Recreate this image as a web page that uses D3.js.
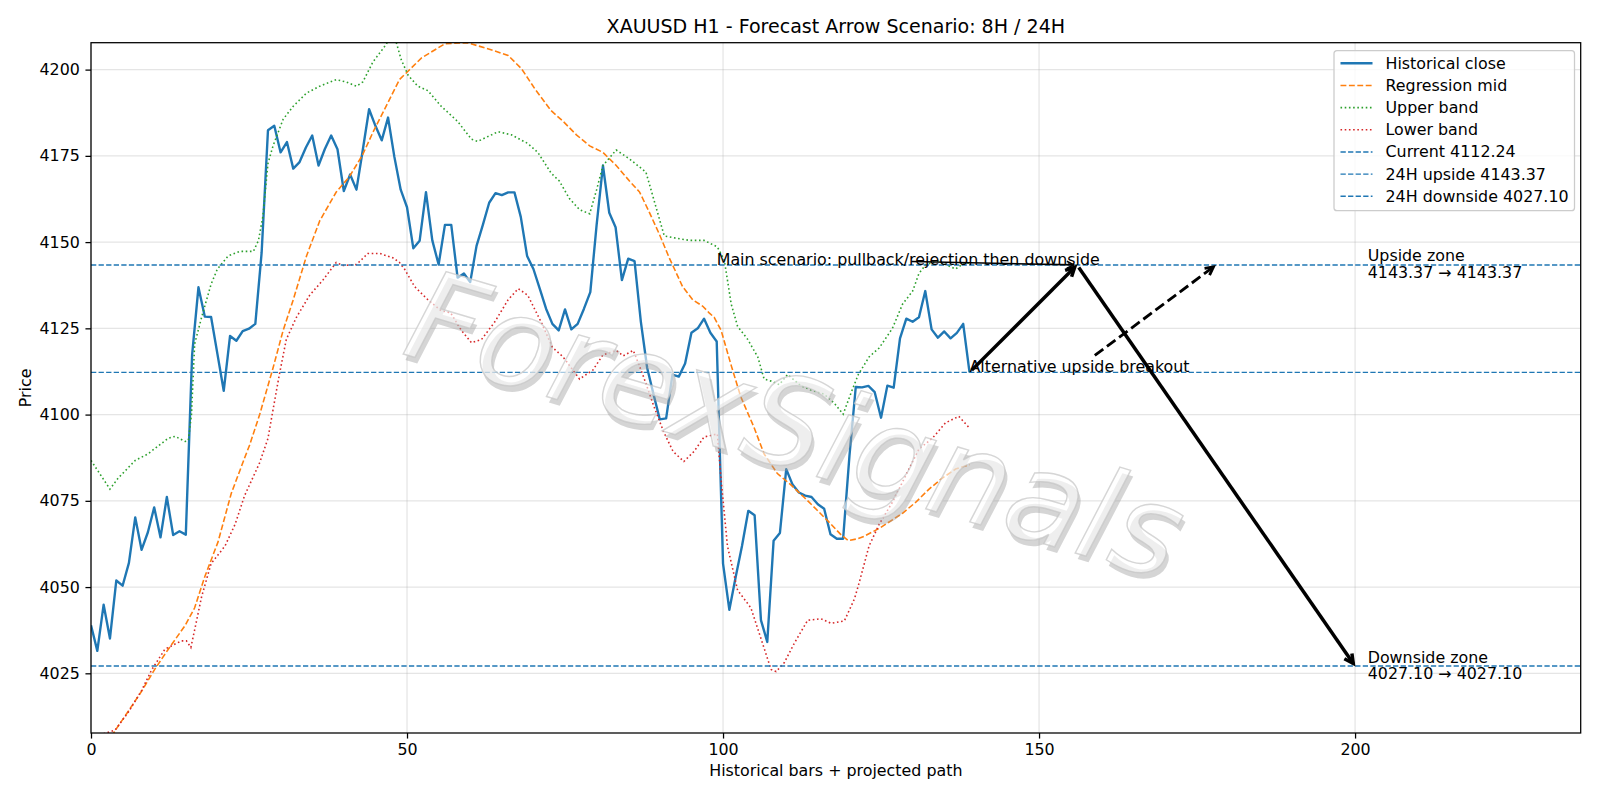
<!DOCTYPE html>
<html>
<head>
<meta charset="utf-8">
<script src="https://cdn.jsdelivr.net/npm/d3@7"></script>
<style>
  body { margin: 0; background: #fff; }
  text { font-family: "DejaVu Sans", sans-serif; }
</style>
</head>
<body>
<div id="chart"></div>
<script>
// historical H1 closes, bar 0..139
const closeVals = [
  4038.9, 4031.5, 4044.9, 4035.1, 4051.9, 4050.4, 4057.0, 4070.2, 4060.8, 4065.9,
  4073.1, 4064.4, 4076.1, 4065.1, 4066.2, 4065.2, 4117.3, 4136.9, 4128.4, 4128.3,
  4117.6, 4106.9, 4122.8, 4121.4, 4124.2, 4124.9, 4126.3, 4147.0, 4182.4, 4183.7,
  4176.0, 4179.0, 4171.3, 4173.2, 4177.4, 4180.9, 4172.2, 4177.0, 4180.9, 4176.9,
  4164.8, 4169.6, 4165.2, 4176.7, 4188.5, 4183.7, 4179.5, 4186.1, 4174.7, 4165.2,
  4160.1, 4148.2, 4150.4, 4164.5, 4150.5, 4143.5, 4155.0, 4155.0, 4139.7, 4140.9,
  4138.4, 4148.9, 4155.0, 4161.4, 4164.2, 4163.6, 4164.4, 4164.4, 4157.3, 4146.0,
  4142.2, 4136.5, 4130.7, 4126.3, 4124.4, 4130.5, 4124.7, 4126.3, 4130.7, 4135.5,
  4155.0, 4172.2, 4158.5, 4154.3, 4139.0, 4145.2, 4144.5, 4126.9, 4113.5, 4105.9,
  4098.6, 4098.9, 4111.6, 4111.0, 4114.8, 4123.7, 4125.0, 4127.8, 4123.7, 4121.2,
  4056.8, 4043.4, 4052.9, 4061.9, 4072.1, 4070.8, 4040.4, 4034.1, 4063.4, 4065.7,
  4084.2, 4079.7, 4077.4, 4076.5, 4076.1, 4074.0, 4072.7, 4065.3, 4064.0, 4064.0,
  4088.0, 4108.0, 4107.9, 4108.3, 4106.5, 4099.1, 4108.4, 4107.8, 4122.1, 4127.8,
  4126.9, 4128.2, 4135.8, 4124.7, 4122.3, 4124.1, 4122.1, 4123.7, 4126.3, 4112.24
];

// bands as [bar, price]
const midBand = [
  [0, 3999], [2, 4003], [4, 4008.9], [5.9, 4014], [8, 4019.8], [10.1, 4026.2], [12.2, 4031.9],
  [14.9, 4038.9], [16.4, 4044], [18, 4053], [20.1, 4063.1], [22.2, 4077.2], [24.3, 4087.4],
  [25.1, 4091.2], [26.7, 4100.1], [28.8, 4113.5], [30.4, 4124.4], [32, 4133.3], [34.1, 4146.0],
  [36.2, 4156.2], [38.8, 4164.5], [40.9, 4169], [43, 4175.4], [44.6, 4181.8], [46.7, 4189.4],
  [48.8, 4197.1], [50.2, 4199.6], [52.3, 4203.4], [56, 4207.5], [59.6, 4207.8], [63.9, 4205.4],
  [66, 4204.1], [68.1, 4200.3], [70.2, 4194.5], [72.8, 4188.1], [74.7, 4185], [76.8, 4181.1],
  [78.9, 4177.9], [81, 4176.0], [83.1, 4172.2], [85.2, 4167.7], [86.8, 4164.5], [88.3, 4158.8],
  [89.9, 4152.4], [91.5, 4145.4], [93.6, 4137.1], [95.2, 4133.3], [96.8, 4131.4], [97.8, 4129.5],
  [98.6, 4128.2], [99.7, 4124.4], [101.3, 4114.2], [102.8, 4105.2], [104.9, 4096.3], [106.5, 4088.6],
  [108.6, 4082.9], [110.7, 4079.7], [112.9, 4075.9], [115, 4072.1], [117.1, 4068.2], [118.7, 4065.1],
  [119.8, 4063.5], [121.3, 4064.0], [122.3, 4064.7], [124.7, 4067.0], [126.8, 4069.5], [128.4, 4071.4],
  [130.5, 4074.6], [132.6, 4078.4], [134.7, 4081.6], [136.8, 4084.2], [139, 4085.5]
];

const upperBand = [
  [0, 4086.7], [3, 4078.4], [4.3, 4081.6], [7, 4086.7], [9, 4088.6], [12.2, 4093.1], [13.3, 4093.7],
  [14.9, 4092.2], [15.4, 4092.5], [15.9, 4100.1], [16.4, 4120.5], [17.5, 4128.2], [19, 4137.8],
  [20, 4142.2], [21.7, 4146.0], [23.5, 4147.3], [25.7, 4147.3], [26.5, 4150.5], [27.2, 4157.5],
  [28, 4172.8], [28.8, 4177.9], [30.4, 4185.6], [32, 4189.4], [34.1, 4193.2], [36.2, 4195.2],
  [38.8, 4197.1], [40.4, 4196.4], [42, 4195.2], [43, 4196.4], [44.6, 4202.2], [46.7, 4207.3],
  [47.8, 4211], [49.1, 4202.8], [50.2, 4198.3], [51.7, 4195.2], [53.3, 4193.9], [55.4, 4189.4],
  [58, 4185.0], [60.2, 4179.8], [61.2, 4179.2], [64.4, 4182.0], [66.5, 4181.1], [69.1, 4178.6],
  [70.7, 4176.0], [72.8, 4170], [74.1, 4167.7], [75.7, 4162.6], [77.3, 4159.4], [78.9, 4158.2],
  [80, 4165.2], [81, 4172.2], [83.1, 4176.7], [85.2, 4174.1], [87.8, 4170.3], [89.4, 4160.1],
  [90.7, 4151.8], [92.6, 4151.1], [94.7, 4150.5], [97, 4150.5], [99.1, 4148.6], [100.2, 4144.8],
  [101.3, 4132.0], [102.3, 4125.6], [103.9, 4121.8], [105.5, 4116.7], [106.5, 4110.3], [107.6, 4109.7],
  [108.9, 4108.7], [110.2, 4111.6], [112.3, 4108.4], [113.9, 4107.1], [116, 4105.9], [117.6, 4103.3],
  [119, 4100.1], [120.3, 4106.5], [121.4, 4111.6], [123.1, 4116.7], [124.7, 4119.3], [126.8, 4125.0],
  [128.4, 4132.0], [130, 4135.8], [131, 4140.9], [132.1, 4143.5], [134, 4144.5], [136.8, 4142.2],
  [137.8, 4143.5], [139, 4144]
];

const lowerBand = [
  [0, 4007], [2, 4007.5], [3.8, 4008.5], [6, 4014], [8, 4020], [9.6, 4026], [11.7, 4032],
  [14.3, 4034.4], [15.1, 4034.4], [15.8, 4032.5], [16.4, 4037.6], [17.5, 4047.2], [19, 4056.8],
  [21.2, 4061.9], [22.8, 4068.2], [24.3, 4076.5], [25.1, 4079.7], [26.7, 4086.1], [28, 4093.1],
  [28.8, 4101.4], [29.8, 4111.6], [30.9, 4121.8], [32.5, 4128.2], [34.6, 4134.6], [36.7, 4139.0],
  [38.8, 4144.1], [39.9, 4143.2], [42, 4143.5], [43.8, 4146.7], [45.7, 4146.7], [47.8, 4145.4],
  [48.8, 4144.1], [49.6, 4142.2], [51.2, 4137.1], [53.3, 4133.3], [55.4, 4130.1], [56.9, 4129.5],
  [58.6, 4124.4], [60.2, 4120.8], [61.8, 4121.8], [63.9, 4126.9], [66, 4133.3], [67.6, 4136.5],
  [69.1, 4134.6], [71.2, 4126.9], [73, 4119.5], [74.7, 4116.7], [77.3, 4110.3], [79.4, 4112.9],
  [81, 4117.3], [83.1, 4118.6], [84.2, 4117], [85.8, 4118.6], [87.3, 4111.6], [89, 4102.7],
  [90.6, 4095.0], [92.1, 4089.3], [93.8, 4086.4], [95.4, 4089.3], [97, 4093.5], [99.1, 4094.4],
  [99.7, 4081.0], [100.7, 4061.9], [102.3, 4049.1], [104.4, 4044.0], [106, 4035.1], [107.6, 4026.1],
  [108.4, 4025.5], [109.7, 4028.1], [111.3, 4033.8], [113.4, 4040.4], [115.5, 4040.8], [117.1, 4039.5],
  [119.2, 4040.2], [120.8, 4046.6], [121.5, 4051], [123.1, 4061.9], [124.7, 4068.2], [126.8, 4074.6],
  [128.9, 4082.3], [131, 4090], [133.1, 4093.1], [135.2, 4097.6], [137.3, 4099.5], [138.9, 4096.3]
];

const levels = [
  { name: "Current 4112.24", value: 4112.24 },
  { name: "24H upside 4143.37", value: 4143.37 },
  { name: "24H downside 4027.10", value: 4027.10 }
];

// projected path: now -> 8H rejection high -> 24H downside
const mainPath = [[139, 4112.24], [156, 4143.37], [200, 4027.10]];
const altTarget = [178, 4143.37];
const mainNote = { x: 99, y: 4143.37, text: "Main scenario: pullback/rejection then downside" };
const altNote = { x: 139, y: 4112.24, text: "Alternative upside breakout" };
const zones = [
  { x: 202, y: 4143.37, lines: ["Upside zone", "4143.37 \u2192 4143.37"] },
  { x: 202, y: 4027.10, lines: ["Downside zone", "4027.10 \u2192 4027.10"] }
];
const watermark = { x: 111.5, y: 4097, text: "ForexSignals" };

const xTicks = [0, 50, 100, 150, 200];
const yTicks = [4025, 4050, 4075, 4100, 4125, 4150, 4175, 4200];
const xDomain = [0, 235.7];
const yDomain = [4007.7, 4207.8];

const C = { blue: "#1f77b4", orange: "#ff7f0e", green: "#2ca02c", red: "#d62728" };
const PT = 1.587;          // px per point
const FS = 10 * PT;

const width = 1600, height = 800;
const margin = { top: 42.7, right: 19.3, bottom: 67, left: 91 };
const iw = width - margin.left - margin.right;
const ih = height - margin.top - margin.bottom;

const svg = d3.select("#chart").append("svg")
  .attr("width", width).attr("height", height);

svg.append("defs").append("clipPath").attr("id", "clip")
  .append("rect").attr("width", iw).attr("height", ih);

const g = svg.append("g").attr("transform", `translate(${margin.left},${margin.top})`);

const x = d3.scaleLinear().domain(xDomain).range([0, iw]);
const y = d3.scaleLinear().domain(yDomain).range([ih, 0]);

// grid
g.append("g").selectAll("line").data(xTicks).join("line")
  .attr("x1", d => x(d)).attr("x2", d => x(d)).attr("y1", 0).attr("y2", ih)
  .attr("stroke", "#b0b0b0").attr("stroke-opacity", 0.33).attr("stroke-width", 0.8 * PT);
g.append("g").selectAll("line").data(yTicks).join("line")
  .attr("y1", d => y(d)).attr("y2", d => y(d)).attr("x1", 0).attr("x2", iw)
  .attr("stroke", "#b0b0b0").attr("stroke-opacity", 0.33).attr("stroke-width", 0.8 * PT);

const plot = g.append("g").attr("clip-path", "url(#clip)");

const lineIdx = d3.line().x((d, i) => x(i)).y(d => y(d));
const linePair = d3.line().x(d => x(d[0])).y(d => y(d[1]));

const styles = {
  close: { color: C.blue, w: 1.5 * PT, dash: null },
  mid: { color: C.orange, w: 1.0 * PT, dash: `${3.7 * PT},${1.6 * PT}` },
  upper: { color: C.green, w: 1.0 * PT, dash: `${1 * PT},${1.65 * PT}` },
  lower: { color: C.red, w: 1.0 * PT, dash: `${1 * PT},${1.65 * PT}` },
  level: { color: C.blue, w: 0.9 * PT, dash: `${3.7 * 0.9 * PT},${1.6 * 0.9 * PT}` }
};

function styled(sel, s) {
  return sel.attr("fill", "none").attr("stroke", s.color).attr("stroke-width", s.w)
    .attr("stroke-dasharray", s.dash);
}

styled(plot.append("path").datum(closeVals).attr("d", lineIdx), styles.close)
  .attr("stroke-linejoin", "round");
styled(plot.append("path").datum(midBand).attr("d", linePair), styles.mid);
styled(plot.append("path").datum(upperBand).attr("d", linePair), styles.upper);
styled(plot.append("path").datum(lowerBand).attr("d", linePair), styles.lower);

styled(plot.append("g").selectAll("line").data(levels).join("line")
  .attr("x1", 0).attr("x2", iw).attr("y1", d => y(d.value)).attr("y2", d => y(d.value)), styles.level);

// arrow helper: "->" style, shrink 2pt each end
function arrow(p0, p1, opt) {
  const dx = p1[0] - p0[0], dy = p1[1] - p0[1];
  const L = Math.hypot(dx, dy), ux = dx / L, uy = dy / L;
  const s = opt.shrink == null ? 2 * PT : opt.shrink;
  const a = [p0[0] + ux * s, p0[1] + uy * s];
  const b = [p1[0] - ux * s, p1[1] - uy * s];
  g.append("line").attr("x1", a[0]).attr("y1", a[1]).attr("x2", b[0]).attr("y2", b[1])
    .attr("stroke", "#000").attr("stroke-width", opt.w)
    .attr("stroke-dasharray", opt.dash || null);
  const hl = opt.hl, hw = opt.hw;
  const bx = b[0] - ux * hl, by = b[1] - uy * hl;
  g.append("path")
    .attr("d", `M${bx - uy * hw},${by + ux * hw}L${b[0]},${b[1]}L${bx + uy * hw},${by - ux * hw}`)
    .attr("fill", "none").attr("stroke", "#000").attr("stroke-width", opt.w)
    .attr("stroke-linejoin", "miter");
}

// watermark
const wm = g.append("g")
  .attr("transform", `translate(${x(watermark.x)},${y(watermark.y)}) rotate(16.5)`);
wm.append("text").attr("x", 4).attr("y", 5)
  .attr("text-anchor", "middle").attr("dominant-baseline", "central")
  .attr("font-size", 125).attr("font-style", "italic")
  .attr("fill", "#9a9a9a").attr("fill-opacity", 0.42)
  .text(watermark.text);
wm.append("text")
  .attr("text-anchor", "middle").attr("dominant-baseline", "central")
  .attr("font-size", 125).attr("font-style", "italic")
  .attr("fill", "#ffffff").attr("fill-opacity", 0.6)
  .attr("stroke", "#c4c4c4").attr("stroke-width", 1.4).attr("stroke-opacity", 0.7)
  .text(watermark.text);

// projected path arrows
const mp = mainPath.map(d => [x(d[0]), y(d[1])]);
arrow(mp[0], mp[1], { w: 2.2 * PT, hl: 9, hw: 4.6 });
arrow(mp[1], mp[2], { w: 2.2 * PT, hl: 9, hw: 4.6 });

// main scenario note + arrow
const mainText = g.append("text")
  .attr("x", x(mainNote.x)).attr("y", y(mainNote.y))
  .attr("font-size", FS).attr("fill", "#000").text(mainNote.text);
const mb = mainText.node().getBBox();
arrow([mb.x + mb.width / 2, mb.y + mb.height / 2 + 2], [x(mainPath[1][0]), y(mainPath[1][1])],
  { w: 1.0 * PT, hl: 7, hw: 3.5 });

// alternative note + dashed arrow from its box edge
const altText = g.append("text")
  .attr("x", x(altNote.x)).attr("y", y(altNote.y))
  .attr("font-size", FS).attr("fill", "#000").text(altNote.text);
const ab = altText.node().getBBox();
{
  const cx = ab.x + ab.width / 2, cy = ab.y + ab.height / 2;
  const tx = x(altTarget[0]), ty = y(altTarget[1]);
  const t = (cy - ab.y) / (cy - ty);
  const sx = cx + (tx - cx) * t, sy = ab.y;
  arrow([sx, sy], [tx, ty], { w: 1.8 * PT, hl: 8, hw: 4.2, dash: `${3.7 * 1.8 * PT},${1.6 * 1.8 * PT}` });
}

// zone labels
zones.forEach(z => {
  const t = g.append("text").attr("x", x(z.x)).attr("y", y(z.y))
    .attr("font-size", FS).attr("fill", "#000");
  t.append("tspan").attr("x", x(z.x)).attr("dy", -3.5).text(z.lines[0]);
  t.append("tspan").attr("x", x(z.x)).attr("dy", 16.3).text(z.lines[1]);
});

// spines
g.append("rect").attr("width", iw).attr("height", ih)
  .attr("fill", "none").attr("stroke", "#000").attr("stroke-width", 0.8 * PT);

// axes
const xAxis = g.append("g").attr("transform", `translate(0,${ih})`)
  .call(d3.axisBottom(x).tickValues(xTicks).tickFormat(d3.format("d")).tickSize(3.5 * PT).tickPadding(3.5 * PT));
const yAxis = g.append("g")
  .call(d3.axisLeft(y).tickValues(yTicks).tickFormat(d3.format("d")).tickSize(3.5 * PT).tickPadding(3.5 * PT));
[xAxis, yAxis].forEach(a => {
  a.select(".domain").remove();
  a.selectAll(".tick line").attr("stroke", "#000").attr("stroke-width", 0.8 * PT);
  a.selectAll(".tick text").attr("font-size", FS).attr("fill", "#000")
    .attr("font-family", "DejaVu Sans, sans-serif");
});

// titles
svg.append("text").attr("x", margin.left + iw / 2).attr("y", 33.2)
  .attr("text-anchor", "middle").attr("font-size", 12 * PT)
  .text("XAUUSD H1 - Forecast Arrow Scenario: 8H / 24H");
svg.append("text").attr("x", margin.left + iw / 2).attr("y", 776)
  .attr("text-anchor", "middle").attr("font-size", FS)
  .text("Historical bars + projected path");
svg.append("text")
  .attr("transform", `translate(25.5,${margin.top + ih / 2}) rotate(-90)`)
  .attr("text-anchor", "middle").attr("dominant-baseline", "central")
  .attr("font-size", FS).text("Price");

// legend
const legendItems = [
  { name: "Historical close", s: styles.close },
  { name: "Regression mid", s: styles.mid },
  { name: "Upper band", s: styles.upper },
  { name: "Lower band", s: styles.lower },
  ...levels.map(l => ({ name: l.name, s: styles.level }))
];
const lg = svg.append("g").attr("transform", "translate(1334,50.7)");
lg.append("rect").attr("width", 240.5).attr("height", 160).attr("rx", 3)
  .attr("fill", "#fff").attr("fill-opacity", 0.8)
  .attr("stroke", "#cccccc").attr("stroke-width", 0.8 * PT);
lg.selectAll("g.item").data(legendItems).join("g").attr("class", "item")
  .attr("transform", (d, i) => `translate(0,${12.6 + i * 22.17})`)
  .each(function (d) {
    const it = d3.select(this);
    styled(it.append("line").attr("x1", 6.5).attr("x2", 38.5), d.s);
    it.append("text").attr("x", 51.5).attr("dominant-baseline", "central")
      .attr("font-size", FS).text(d.name);
  });
</script>
</body>
</html>
